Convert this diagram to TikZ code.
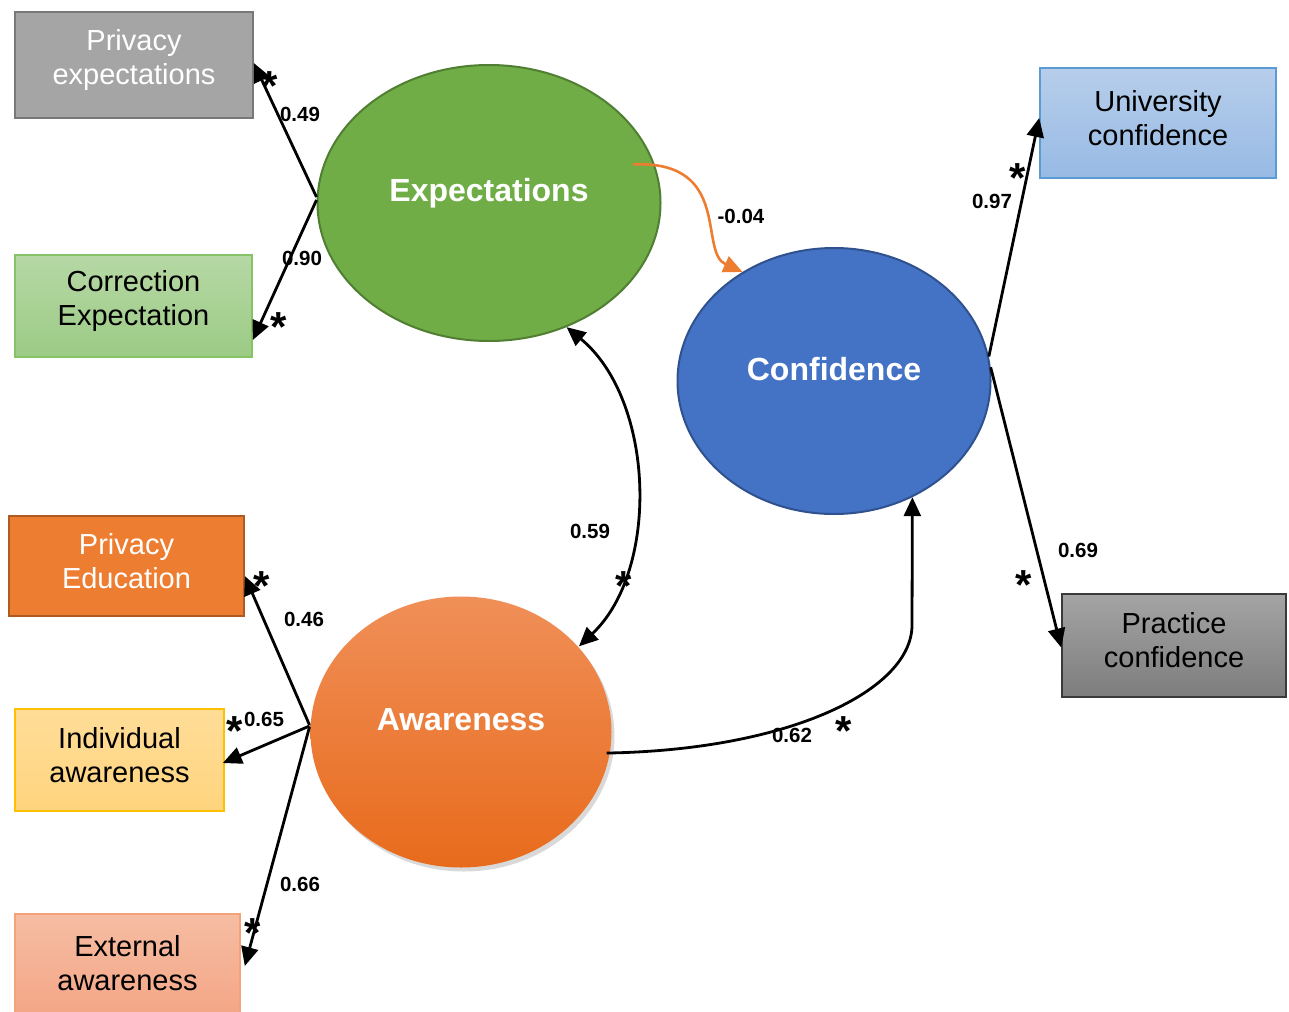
\documentclass[tikz,border=0pt]{standalone}
\usepackage{fontspec}
\setmainfont{Liberation Sans}
\usetikzlibrary{arrows.meta,shapes.geometric,shadows,calc}

\definecolor{expfill}{HTML}{70AD47}
\definecolor{expline}{HTML}{507E32}
\definecolor{conffill}{HTML}{4472C4}
\definecolor{confline}{HTML}{2F528F}
\definecolor{awtop}{HTML}{F08F58}
\definecolor{awbot}{HTML}{E86B1C}
\definecolor{pexpfill}{HTML}{A5A5A5}
\definecolor{pexpline}{HTML}{787878}
\definecolor{cexptop}{HTML}{B6D8A5}
\definecolor{cexpbot}{HTML}{9CCB85}
\definecolor{cexpline}{HTML}{86C366}
\definecolor{ucontop}{HTML}{B7CEEB}
\definecolor{uconbot}{HTML}{97BAE4}
\definecolor{uconline}{HTML}{5B9BD5}
\definecolor{pcontop}{HTML}{A4A4A4}
\definecolor{pconbot}{HTML}{7D7D7D}
\definecolor{pconline}{HTML}{3A3A3A}
\definecolor{pedufill}{HTML}{ED7D31}
\definecolor{peduline}{HTML}{AE5A21}
\definecolor{iawtop}{HTML}{FFDD98}
\definecolor{iawbot}{HTML}{FFD47E}
\definecolor{iawline}{HTML}{FFC000}
\definecolor{eawtop}{HTML}{F6BDA3}
\definecolor{eawbot}{HTML}{F4A585}
\definecolor{eawline}{HTML}{F3A27A}
\definecolor{negpath}{HTML}{ED7D31}

\begin{document}
\begin{tikzpicture}[x=1pt,y=-1pt,
  box/.style={rectangle, draw, line width=1.6pt, inner sep=0pt},
  boxtext/.style={align=center, inner sep=0pt, yshift=5pt,
    font=\fontsize{29}{34}\selectfont},
  latent/.style={ellipse, draw, line width=2pt, inner sep=0pt},
  lattext/.style={font=\bfseries\fontsize{32}{38}\selectfont, text=white, inner sep=0pt},
  load/.style={line width=2.8pt, -{Triangle[length=19pt,width=17pt]}},
  corr/.style={line width=2.8pt, {Triangle[length=19pt,width=17pt]}-{Triangle[length=19pt,width=17pt]}},
  coef/.style={font=\bfseries\fontsize{20.5}{24}\selectfont, inner sep=0pt},
  sig/.style={font=\bfseries\fontsize{42}{42}\selectfont, inner sep=0pt, anchor=base, yshift=-23pt}]
\useasboundingbox (0,0) rectangle (1289,1011);

% latent constructs
\node[latent, fill=expfill, draw=expline, minimum width=343pt, minimum height=276pt] (exp) at (489,203) {};
\node[latent, fill=conffill, draw=confline, minimum width=313pt, minimum height=266pt] (conf) at (834,381) {};
\node[latent, draw=none, top color=awtop, bottom color=awbot, minimum width=301pt, minimum height=271pt,
  drop shadow={opacity=0.3, shadow xshift=3pt, shadow yshift=-4pt}] (aw) at (461,732) {};

\node[lattext] at ([yshift=10pt]exp.center) {Expectations};
\node[lattext] at ([yshift=12pt]conf.center) {Confidence};
\node[lattext] at ([yshift=12pt]aw.center) {Awareness};

% indicators
\node[box, fill=pexpfill, draw=pexpline, minimum width=238pt, minimum height=106pt,
  label={[boxtext, text=white]center:Privacy\\expectations}] (pexp) at (134,65) {};
\node[box, top color=cexptop, bottom color=cexpbot, draw=cexpline, minimum width=237pt, minimum height=102pt,
  label={[boxtext]center:Correction\\Expectation}] (cexp) at (133.5,306) {};
\node[box, top color=ucontop, bottom color=uconbot, draw=uconline, minimum width=236pt, minimum height=110pt,
  label={[boxtext]center:University\\confidence}] (ucon) at (1158,123) {};
\node[box, top color=pcontop, bottom color=pconbot, draw=pconline, minimum width=224pt, minimum height=103pt,
  label={[boxtext]center:Practice\\confidence}] (pcon) at (1174,645.5) {};
\node[box, fill=pedufill, draw=peduline, minimum width=235pt, minimum height=100pt,
  label={[boxtext, text=white]center:Privacy\\Education}] (pedu) at (126.5,566) {};
\node[box, top color=iawtop, bottom color=iawbot, draw=iawline, minimum width=209pt, minimum height=102pt,
  label={[boxtext]center:Individual\\awareness}] (iaw) at (119.5,760) {};
\node[box, top color=eawtop, bottom color=eawbot, draw=eawline, minimum width=225pt, minimum height=104pt,
  label={[boxtext, yshift=-2pt]center:External\\awareness}] (eaw) at (127.5,966) {};

% loadings of Expectations
\draw[load] ([yshift=6pt]exp.west) -- ([yshift=2pt]pexp.east);
\draw[load] ([yshift=3pt]exp.west) -- ([yshift=-34pt]cexp.east);
\node[coef] at (300,114) {0.49};
\node[coef] at (302,258) {0.90};
\node[sig] at (270,78) {*};
\node[sig] at (279,318) {*};

% loadings of Confidence
\draw[load] (conf.9) -- ([yshift=5pt]ucon.west);
\draw[load] (conf.5) -- ([yshift=-2pt]pcon.west);
\node[coef] at (992,201) {0.97};
\node[coef] at (1078,550) {0.69};
\node[sig] at (1018,170) {*};
\node[sig] at (1024,576) {*};

% loadings of Awareness
\draw[load] ([yshift=7pt]aw.west) -- ([yshift=-10pt]pedu.east);
\draw[load] ([yshift=6pt]aw.west) -- ([xshift=-2pt,yshift=-3pt]iaw.east);
\draw[load] ([yshift=5pt]aw.west) -- ([xshift=4pt]eaw.east);
\node[coef] at (304,619) {0.46};
\node[coef] at (264,719) {0.65};
\node[coef] at (300,884) {0.66};
\node[sig] at (262,577) {*};
\node[sig] at (235,722) {*};
\node[sig] at (253,924) {*};

% structural paths
\draw[line width=2.6pt, draw=negpath, -{Triangle[length=19pt,width=17pt]}]
  ($(exp.center)!0.88!(exp.15)$) .. controls (733,160) and (698,252) .. (conf.130);
\node[coef] at (741,216) {-0.04};

\draw[corr] (exp.-58) .. controls (655,400) and (660,570) .. (aw.36);
\node[coef] at (590,531) {0.59};
\node[sig] at (624,577) {*};

\coordinate (bend) at (912,625);
\draw[load] ([xshift=-4pt]aw.-8) .. controls (790,750) and (912,690) .. (bend) -- (conf.-56);
\node[coef] at (792,735) {0.62};
\node[sig] at (844,722) {*};
\end{tikzpicture}
\end{document}
